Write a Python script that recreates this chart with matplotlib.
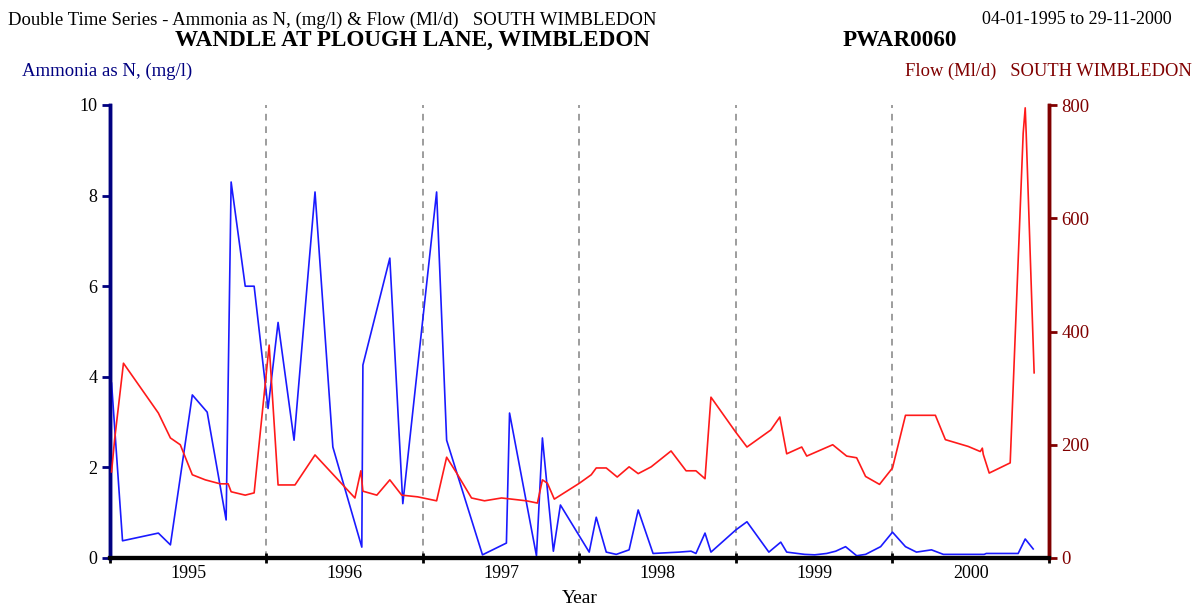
import matplotlib
matplotlib.use("Agg")
import matplotlib.pyplot as plt
from matplotlib.ticker import FixedLocator, NullFormatter, FixedFormatter

plt.rcParams['font.family'] = ['Liberation Serif', 'DejaVu Serif']

# Ammonia as N (mg/l) samples: decimal year, value
ammonia_t = [1995.010, 1995.080, 1995.309, 1995.386, 1995.526, 1995.621, 1995.742,
             1995.774, 1995.864, 1995.921, 1996.010, 1996.074, 1996.176, 1996.310,
             1996.424, 1996.609, 1996.616, 1996.788, 1996.871, 1997.087, 1997.151,
             1997.380, 1997.533, 1997.553, 1997.725, 1997.763, 1997.833, 1997.878,
             1998.062, 1998.107, 1998.171, 1998.235, 1998.317, 1998.375, 1998.470,
             1998.636, 1998.713, 1998.744, 1998.802, 1998.840, 1998.999, 1999.070,
             1999.210, 1999.286, 1999.324, 1999.439, 1999.503, 1999.579, 1999.637,
             1999.700, 1999.771, 1999.828, 1999.924, 2000.000, 2000.083, 2000.153,
             2000.249, 2000.325, 2000.586, 2000.599, 2000.803, 2000.848, 2000.899]
ammonia_v = [3.86, 0.38, 0.55, 0.29, 3.6, 3.22, 0.84,
             8.3, 6.0, 6.0, 3.3, 5.2, 2.6, 8.08,
             2.45, 0.24, 4.26, 6.62, 1.2, 8.08, 2.6,
             0.07, 0.33, 3.2, 0.05, 2.65, 0.15, 1.17,
             0.13, 0.9, 0.13, 0.08, 0.18, 1.06, 0.1,
             0.13, 0.15, 0.1, 0.55, 0.13, 0.62, 0.8,
             0.13, 0.35, 0.13, 0.08, 0.07, 0.1, 0.15,
             0.25, 0.05, 0.08, 0.25, 0.57, 0.25, 0.13,
             0.18, 0.08, 0.08, 0.1, 0.1, 0.42, 0.2]

# Flow (Ml/d) at South Wimbledon: decimal year, value
flow_t = [1995.010, 1995.029, 1995.086, 1995.309, 1995.386, 1995.449, 1995.526,
          1995.609, 1995.704, 1995.755, 1995.774, 1995.864, 1995.921, 1996.017,
          1996.074, 1996.182, 1996.310, 1996.565, 1996.603, 1996.616, 1996.705,
          1996.788, 1996.864, 1996.966, 1997.087, 1997.151, 1997.215, 1997.310,
          1997.393, 1997.502, 1997.661, 1997.731, 1997.763, 1997.795, 1997.839,
          1997.999, 1998.075, 1998.107, 1998.171, 1998.241, 1998.317, 1998.375,
          1998.458, 1998.585, 1998.681, 1998.744, 1998.802, 1998.840, 1998.999,
          1999.070, 1999.222, 1999.280, 1999.324, 1999.420, 1999.452, 1999.618,
          1999.707, 1999.771, 1999.828, 1999.917, 2000.000, 2000.083, 2000.274,
          2000.338, 2000.484, 2000.561, 2000.574, 2000.580, 2000.618, 2000.752,
          2000.835, 2000.848, 2000.854, 2000.905]
flow_v = [152, 208, 344, 256, 212, 200, 147,
          138, 131, 131, 117, 111, 115, 376,
          129, 129, 182, 106, 154, 118, 111,
          138, 111, 108, 101, 178, 150, 106,
          101, 106, 101, 97, 138, 132, 104,
          132, 147, 159, 159, 143, 161, 149,
          161, 189, 154, 154, 140, 284, 222,
          196, 226, 249, 184, 196, 180, 200,
          180, 177, 144, 130, 159, 252, 252,
          209, 197, 188, 194, 183, 150, 168,
          750, 795, 752, 327]

years = [1995, 1996, 1997, 1998, 1999, 2000, 2001]
year_labels = ['1995', '1996', '1997', '1998', '1999', '2000']
ammonia_ticks = [0, 2, 4, 6, 8, 10]
flow_ticks = [0, 200, 400, 600, 800]

NAVY = '#000080'
MAROON = '#800000'

fig = plt.figure(figsize=(12.01, 6.09), dpi=100)
ax = fig.add_axes([110 / 1201, 51 / 609, 939 / 1201, 453 / 609])
ax2 = ax.twinx()

# year separators
for yr in years[1:-1]:
    ax.axvline(yr, color='#8c8c8c', lw=1.2, ls=(0, (4, 3.5)), zorder=1)

ax.plot(ammonia_t, ammonia_v, color='#1a1aff', lw=1.2, zorder=3)
ax2.plot(flow_t, flow_v, color='#ff1a1a', lw=1.2, zorder=3)

ax.set_xlim(years[0], years[-1])
ax.set_ylim(0, 10)
ax2.set_ylim(0, 800)

# x axis: ticks at year boundaries, labels mid-year
ax.xaxis.set_major_locator(FixedLocator(years))
ax.xaxis.set_major_formatter(NullFormatter())
ax.xaxis.set_minor_locator(FixedLocator([y + 0.5 for y in years[:-1]]))
ax.xaxis.set_minor_formatter(FixedFormatter(year_labels))
ax.tick_params(axis='x', which='major', direction='inout', length=7, width=2, color='black')
ax.tick_params(axis='x', which='minor', length=0, labelsize=13, pad=5)

ax.set_yticks(ammonia_ticks)
ax.tick_params(axis='y', direction='out', length=6, width=2, color=NAVY,
               labelsize=13, labelcolor='black', pad=3)
ax2.set_yticks(flow_ticks)
ax2.tick_params(axis='y', direction='out', length=6, width=2, color=MAROON,
                labelsize=13.5, labelcolor=MAROON, pad=3)

for a in (ax, ax2):
    a.spines['top'].set_visible(False)
    a.spines['left'].set_color(NAVY)
    a.spines['left'].set_linewidth(2.5)
    a.spines['right'].set_color(MAROON)
    a.spines['right'].set_linewidth(2.5)
    a.spines['bottom'].set_color('black')
    a.spines['bottom'].set_linewidth(3)

ax.set_xlabel('Year', fontsize=14, labelpad=6)

fig.text(8 / 1201, 1 - 20 / 609,
         'Double Time Series - Ammonia as N, (mg/l) & Flow (Ml/d)   SOUTH WIMBLEDON',
         fontsize=13.5, va='center', ha='left')
fig.text(1172 / 1201, 1 - 20 / 609, '04-01-1995 to 29-11-2000',
         fontsize=13, va='center', ha='right')
fig.text(175 / 1201, 1 - 40 / 609, 'WANDLE AT PLOUGH LANE, WIMBLEDON',
         fontsize=16.7, fontweight='bold', va='center', ha='left')
fig.text(843 / 1201, 1 - 40 / 609, 'PWAR0060',
         fontsize=16.7, fontweight='bold', va='center', ha='left')
fig.text(22 / 1201, 1 - 71 / 609, 'Ammonia as N, (mg/l)',
         fontsize=13.5, color=NAVY, va='center', ha='left')
fig.text(1192 / 1201, 1 - 71 / 609, 'Flow (Ml/d)   SOUTH WIMBLEDON',
         fontsize=13.3, color=MAROON, va='center', ha='right')

fig.savefig('out.png', dpi=100, facecolor='white')
